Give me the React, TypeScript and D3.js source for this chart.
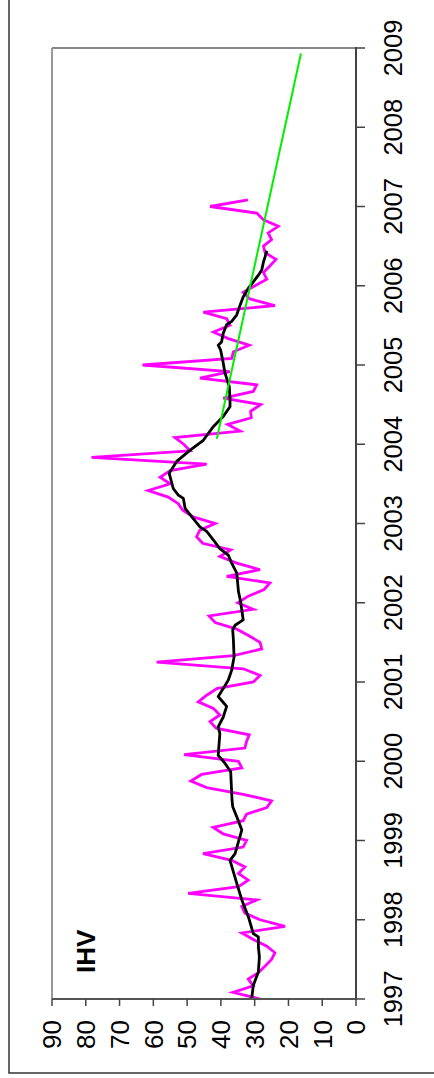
import React from "react";
import * as d3 from "d3";

// Monthly IHV values, starting January 1997
const START_YEAR = 1997;
const ihvMonthly = [
  28.4, 36.4, 30.4, 31.9, 28.9, 26.9, 25, 24, 26.4, 30.4,
  33.8, 21, 28.4, 32.9, 33.8, 29.4, 49.7, 34.8, 31.9, 34.8,
  32.9, 36.8, 45.3, 33.4, 32.4, 39.3, 42.3, 33.4, 32.4, 26.4,
  25, 33.4, 44.2, 48.9, 45.7, 33.8, 34.8, 50.9, 32.9, 32.4,
  31.6, 41.4, 43.2, 40.3, 42.2, 46.7, 44.2, 41.2, 30.4, 28.4,
  33.4, 59, 36.3, 27.9, 28.4, 31.7, 35.3, 41.7, 43.5, 30.4,
  35, 31.9, 27.2, 25.5, 38.3, 28.4, 35.3, 40.3, 37.1, 45.4,
  47.2, 46.2, 41.7, 48.2, 51.3, 52.6, 55.6, 61.5, 55, 58,
  55, 44.2, 78.3, 49.1, 51, 53.6, 34.3, 38, 31, 31.2,
  28.2, 39.3, 30.4, 29.4, 46.2, 37.3, 63.2, 36.8, 36.3, 31.6,
  37.8, 42.2, 37.3, 38.3, 45.2, 24, 31.4, 33.4, 29.9, 26.4,
  27.4, 25.5, 23.7, 26.9, 27.4, 25, 26, 23, 27.4, 29.4,
  43.2, 32,
];

// Smoothed series: month offsets from Jan 1997 and values
const smoothMonth = [
  0, 2.1, 4.1, 6.4, 7.9, 9.4, 9.9, 12.5, 15, 17.5, 21, 22, 25.6, 27.6, 29.1, 30.1,
  34.4, 35.7, 36.9, 40.2, 41.2, 42.7, 44.3, 45.8, 47, 48.3, 49.8, 51.8, 54.4, 55.9,
  56.6, 57.4, 58.9, 60.5, 61.7, 64.5, 66, 67.2, 68.2, 69.5, 70.8, 71.5, 73, 74.3,
  75.8, 76.3, 77.3, 79.6, 81.4, 83.1, 84.6, 86.7, 88.2, 89.7, 90.7, 92.7, 94.8,
  96.3, 98.3, 99, 99.5, 100.8, 102.1, 102.6, 103.6, 105.1, 106.3, 107.6, 108.6,
  109.6, 110.4, 111.6, 112.4, 113.3,
];
const smoothValue = [
  30.9, 30.4, 28.9, 28.6, 28.9, 28.9, 30.4, 31.9, 33.8, 35.3, 37.3, 35.8, 33.8, 35.3, 36.5, 36.7,
  37.1, 38.8, 40.8, 40.3, 40.8, 39.3, 38.3, 40.8, 39.3, 37.8, 36.8, 36.1, 36.3, 36.5,
  35.8, 33.4, 33.8, 34.3, 34.8, 35.3, 36.8, 37.8, 40.3, 42.2, 44.2, 46.2, 48.6, 50.6,
  51.1, 52.6, 54.1, 55.3, 53.1, 49.1, 45.2, 42.2, 39.3, 37.3, 37.3, 37.5, 38.8,
  39.3, 40.1, 40.8, 39.8, 39.3, 38.3, 36.8, 35.3, 34.3, 33.4, 31.9, 30.4,
  28.9, 27.9, 27.4, 26.9, 26.4,
];

// Linear trend (green)
const trendYears = [2004.07, 2008.93];
const trendValues = [41.2, 16.3];

const yearTicks = [1997, 1998, 1999, 2000, 2001, 2002, 2003, 2004, 2005, 2006, 2007, 2008, 2009];
const valueTicks = [0, 10, 20, 30, 40, 50, 60, 70, 80, 90];
const seriesLabel = "IHV";

export default function App() {
  const W = 434;
  const H = 1078;
  const left = 52;
  const right = 356;
  const top = 48;
  const bottom = 999;
  const font = "'Liberation Sans', Arial, sans-serif";

  const vScale = d3.scaleLinear().domain([0, 90]).range([right, left]);
  const tScale = d3.scaleLinear().domain([1997, 2009]).range([bottom, top]);

  const line = d3
    .line<[number, number]>()
    .x((d) => vScale(d[1]))
    .y((d) => tScale(d[0]));

  const ihvPts: [number, number][] = ihvMonthly.map((v, i) => [START_YEAR + i / 12, v]);
  const smoothPts: [number, number][] = smoothMonth.map((m, i) => [START_YEAR + m / 12, smoothValue[i]]);
  const trendPts: [number, number][] = trendYears.map((y, i) => [y, trendValues[i]]);

  return (
    <svg
      width={W}
      height={H}
      style={{ position: "absolute", left: 0, top: 0, background: "#fff" }}
    >
      {/* outer border */}
      <path d={`M9,-5 V1073 H440`} fill="none" stroke="#333" strokeWidth={1.5} />

      {/* plot frame */}
      <line x1={left} x2={right} y1={top} y2={top} stroke="#888" strokeWidth={2} />
      <line x1={left} x2={left} y1={top} y2={bottom} stroke="#999" strokeWidth={2} />

      {/* series */}
      <path d={line(ihvPts) || ""} fill="none" stroke="#ff00ff" strokeWidth={2.8} strokeLinejoin="miter" />
      <path d={line(smoothPts) || ""} fill="none" stroke="#000" strokeWidth={2.8} strokeLinejoin="round" />
      <path d={line(trendPts) || ""} fill="none" stroke="#00ee00" strokeWidth={2} />

      {/* value axis (bottom) */}
      <line x1={left} x2={right} y1={bottom} y2={bottom} stroke="#555" strokeWidth={1.8} />
      {valueTicks.map((v) => (
        <g key={v}>
          <line x1={vScale(v)} x2={vScale(v)} y1={bottom} y2={bottom + 7} stroke="#444" strokeWidth={1.5} />
          <text
            transform={`translate(${vScale(v)},${bottom + 21}) rotate(-90)`}
            textAnchor="end"
            dy="0.36em"
            fontFamily={font}
            fontSize={26}
            fill="#000"
          >
            {v}
          </text>
        </g>
      ))}

      {/* time axis (right) */}
      <line x1={right} x2={right} y1={top - 1} y2={bottom} stroke="#444" strokeWidth={2} />
      {yearTicks.map((y) => (
        <g key={y}>
          <line x1={right} x2={right + 9} y1={tScale(y)} y2={tScale(y)} stroke="#444" strokeWidth={1.5} />
          <text
            transform={`translate(${right + 46},${tScale(y)}) rotate(-90)`}
            textAnchor="middle"
            fontFamily={font}
            fontSize={25.5}
            fill="#000"
          >
            {y}
          </text>
        </g>
      ))}

      {/* series label */}
      <text
        transform={`translate(95,973) rotate(-90)`}
        textAnchor="start"
        fontFamily={font}
        fontSize={26}
        fontWeight="bold"
        fill="#000"
      >
        {seriesLabel}
      </text>
    </svg>
  );
}
